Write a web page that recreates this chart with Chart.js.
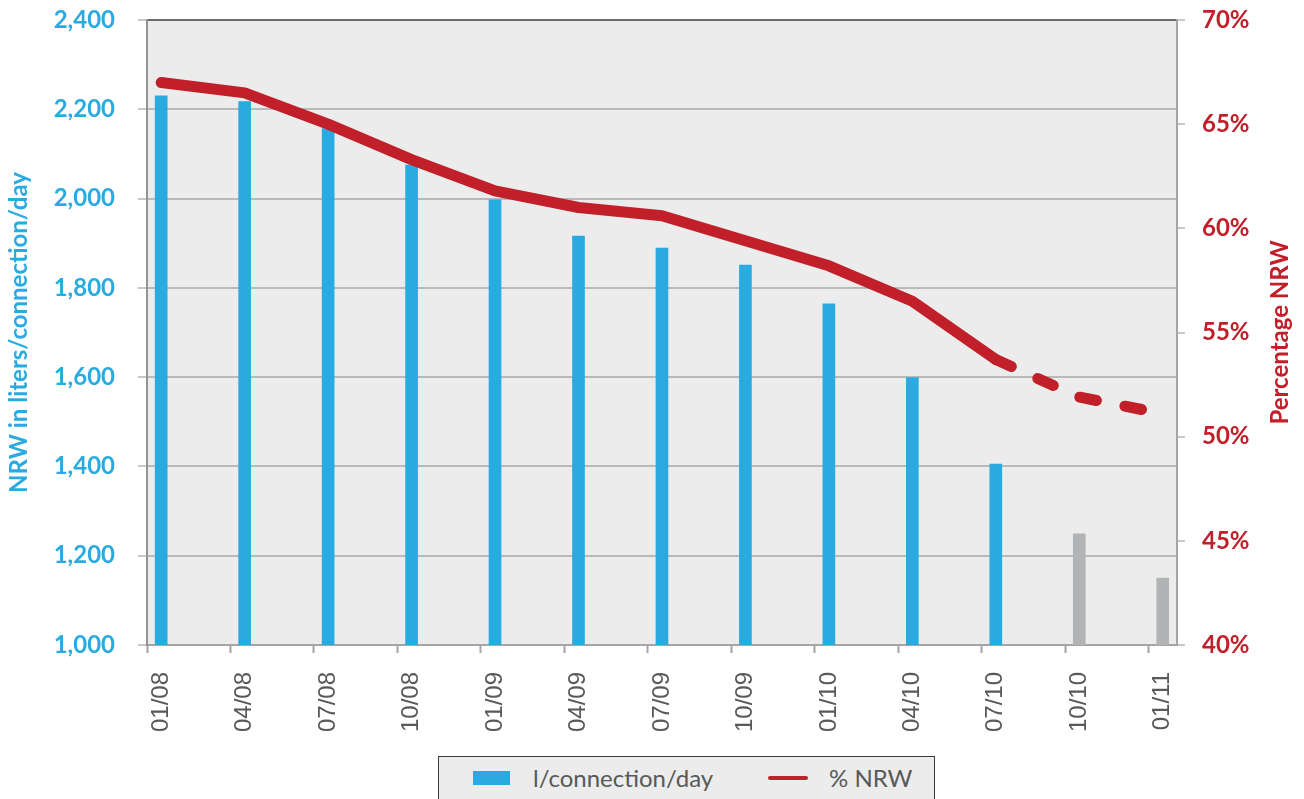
<!DOCTYPE html>
<html>
<head>
<meta charset="utf-8">
<script src="https://cdn.jsdelivr.net/npm/chart.js@4.4.1/dist/chart.umd.min.js"></script>
<style>
  html, body { margin:0; padding:0; background:#fff; }
  #wrap { position:relative; width:1304px; height:799px; overflow:hidden; }
  #chart { position:absolute; left:0; top:0; }
  .legend { position:absolute; left:438px; top:756px; width:495px; height:60px; background:#ebeceb; border:1.5px solid #3a3a3a; font-family:Lato, "Open Sans", sans-serif; font-size:24px; color:#595959; }
  .legend .item { position:absolute; top:7px; line-height:28px; }
  .legend .swatch { position:absolute; }
</style>
</head>
<body>
<div id="wrap">
  <canvas id="chart" width="1304" height="799"></canvas>
  <div class="legend">
    <span class="swatch" style="left:34px; top:14px; width:37px; height:14px; background:#29abe2;"></span>
    <span class="item" style="left:94px;">l/connection/day</span>
    <span class="swatch" style="left:329px; top:19px; width:40px; height:4px; border-radius:2px; background:#c1202a;"></span>
    <span class="item" style="left:390px;">% NRW</span>
  </div>
</div>
<script>
// quarters on the x axis
const labels = ['01/08','04/08','07/08','10/08','01/09','04/09','07/09','10/09','01/10','04/10','07/10','10/10','01/11'];
// NRW in liters/connection/day (bars)
const litersPerConn = [2230, 2217, 2157, 2075, 1997, 1916, 1889, 1851, 1764, 1599, 1405, 1249, 1150];
// % NRW (line)
const pctNRW = [67.0, 66.5, 65.0, 63.3, 61.8, 61.0, 60.6, 59.4, 58.2, 56.5, 53.7, 51.9, 51.1];
// first projected quarter (grey bars, dashed line)
const firstForecast = 11;

const BLUE = '#29abe2', RED = '#c1202a', GREY_BAR = '#b1b3b5';
const tickShift = -0.17;   // tick marks sit a little left of the bars

const bgPlugin = {
  id: 'plotBg',
  beforeDraw(chart){
    const a = chart.chartArea, ctx = chart.ctx;
    ctx.save();
    ctx.fillStyle = '#ebeceb';
    ctx.fillRect(a.left, a.top, a.right - a.left, a.bottom - a.top);
    ctx.restore();
  }
};

// right axis title reads bottom-to-top like the left one
const rightTitle = {
  id: 'rightTitle',
  afterDraw(chart){
    const s = chart.scales.y1, a = chart.chartArea, ctx = chart.ctx;
    ctx.save();
    ctx.translate(s.right - 24, (a.top + a.bottom) / 2);
    ctx.rotate(-Math.PI / 2);
    ctx.fillStyle = RED;
    ctx.font = 'bold 24px Lato';
    ctx.textAlign = 'center';
    ctx.textBaseline = 'middle';
    ctx.fillText('Percentage NRW', 0, 0);
    ctx.restore();
  }
};

const xMin = tickShift, xMax = labels.length - 1 + 0.171;

new Chart(document.getElementById('chart'), {
  type: 'bar',
  data: {
    datasets: [
      {
        type: 'line',
        label: '% NRW',
        data: pctNRW.map((v,i)=>({ x:i, y:v })),
        yAxisID: 'y1',
        xAxisID: 'x',
        borderColor: RED,
        borderWidth: 11,
        borderCapStyle: 'round',
        borderJoinStyle: 'round',
        pointRadius: 0,
        tension: 0,
        order: 0,
        segment: {
          borderDash: ctx => ctx.p1DataIndex >= firstForecast ? [17, 29] : undefined
        }
      },
      {
        type: 'bar',
        label: 'l/connection/day',
        data: litersPerConn.map((v,i)=>({ x:i, y:v })),
        yAxisID: 'y',
        xAxisID: 'x',
        backgroundColor: litersPerConn.map((_,i)=> i >= firstForecast ? GREY_BAR : BLUE),
        barThickness: 12,
        grouped: false,
        order: 1
      }
    ]
  },
  options: {
    responsive: false,
    animation: false,
    layout: { padding: { top: 20, left: 0, right: 0, bottom: 50 } },
    plugins: { legend: { display:false }, tooltip: { enabled:false } },
    scales: {
      xt: {
        type: 'linear', position: 'bottom', weight: 0,
        min: xMin, max: xMax, offset: false,
        afterBuildTicks: s => { s.ticks = labels.map((_,i)=>({ value: i + tickShift })); },
        afterFit: s => { s.height = 8; },
        ticks: { display:false },
        grid: { offset:false, drawOnChartArea:false, tickLength:8, tickColor:'#a5a5a5', tickWidth:2 },
        border: { color:'#a5a5a5', width:2 }
      },
      x: {
        type: 'linear', position: 'bottom', weight: 1,
        min: xMin, max: xMax, offset: false,
        afterBuildTicks: s => { s.ticks = labels.map((_,i)=>({ value: i })); },
        afterFit: s => { s.height = 96; },
        grid: { display:false, offset:false },
        border: { display:false },
        ticks: {
          autoSkip:false, minRotation:90, maxRotation:90, padding:11,
          color:'#595959', font:{ family:'"Liberation Sans", Arial', size:24 },
          callback: v => labels[v]
        }
      },
      y: {
        position: 'left',
        min: 1000, max: 2400,
        afterFit: s => { s.width = 147; s.paddingTop = 0; s.paddingBottom = 0; },
        ticks: {
          stepSize: 200, padding: 23, color: BLUE,
          font: { family:'Lato', size:24, weight:'bold' },
          callback: v => v.toLocaleString('en-US')
        },
        grid: {
          color: c => c.tick && c.tick.value === 2400 ? '#6b6b6b' : '#b9b9b9',
          lineWidth: 2, tickLength: 9, tickColor:'#c8c8c8'
        },
        border: { color:'#939393', width:2 },
        title: {
          display:true, text:'NRW in liters/connection/day', color: BLUE,
          font:{ family:'Lato', size:24, weight:'bold' }, padding:{ top:5, bottom:0 }
        }
      },
      y1: {
        position: 'right',
        min: 40, max: 70,
        afterFit: s => { s.width = 127; s.paddingTop = 0; s.paddingBottom = 0; },
        ticks: {
          stepSize: 5, padding: 17, color: RED,
          font: { family:'Lato', size:24, weight:'bold' },
          callback: v => v + '%'
        },
        grid: { drawOnChartArea:false, tickLength:8, tickColor:'#c8c8c8', lineWidth:2 },
        border: { color:'#a5a5a5', width:2 }
      }
    }
  },
  plugins: [bgPlugin, rightTitle]
});
</script>
</body>
</html>
